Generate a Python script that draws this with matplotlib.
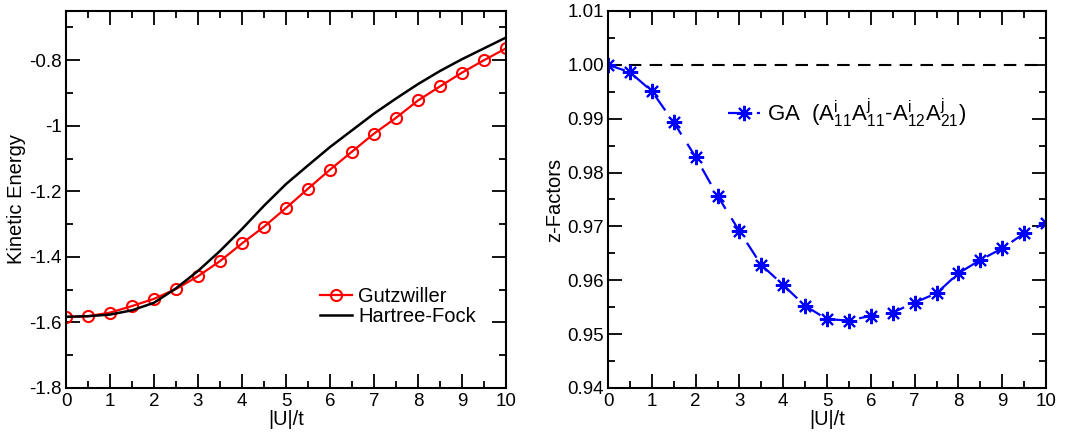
import numpy as np
import matplotlib.pyplot as plt
from matplotlib.ticker import MultipleLocator

plt.rcParams['font.family'] = ['Liberation Sans', 'DejaVu Sans']
plt.rcParams['mathtext.fontset'] = 'custom'
plt.rcParams['mathtext.rm'] = 'Liberation Sans'
plt.rcParams['mathtext.it'] = 'Liberation Sans'

u = np.arange(0, 10.01, 0.5)

# kinetic energy
gutzwiller = [-1.583, -1.581, -1.570, -1.550, -1.528, -1.498, -1.459, -1.413, -1.359, -1.308,
              -1.251, -1.192, -1.134, -1.079, -1.024, -0.976, -0.923, -0.880, -0.838, -0.800, -0.764]
hartree_fock = [-1.583, -1.581, -1.576, -1.563, -1.540, -1.496, -1.443, -1.382, -1.315, -1.244,
                -1.178, -1.121, -1.065, -1.014, -0.963, -0.917, -0.873, -0.833, -0.797, -0.764, -0.731]

# z-factors
z_ga = [1.0000, 0.99864, 0.99512, 0.98932, 0.98290, 0.97568, 0.96914, 0.96284, 0.95914, 0.95525,
        0.95278, 0.95253, 0.95340, 0.95401, 0.95586, 0.95759, 0.96130, 0.96377, 0.96593, 0.96870, 0.97068]
z_ref = 1.0

fig = plt.figure(figsize=(10.83, 4.34), dpi=100)
ax1 = fig.add_axes([66/1083, 1 - 388/434, 440/1083, 377/434])
ax2 = fig.add_axes([608/1083, 1 - 388/434, 438/1083, 377/434])

def style(ax):
    ax.tick_params(which='both', direction='in', top=True, right=True, labelsize=13.5, pad=3)
    ax.tick_params(axis='x', pad=3.5)
    ax.tick_params(which='major', length=10, width=1.3)
    ax.tick_params(which='minor', length=5, width=1.3)
    for s in ax.spines.values():
        s.set_linewidth(1.5)
    ax.set_xlim(0, 10)
    ax.xaxis.set_major_locator(MultipleLocator(1))
    ax.xaxis.set_minor_locator(MultipleLocator(0.5))
    ax.set_xlabel('|U|/t', fontsize=14.5, labelpad=0)

ax1.plot(u, gutzwiller, color='red', lw=1.6, marker='o', ms=8, mfc='none', mew=1.5,
         label='Gutzwiller')
ax1.plot(u, hartree_fock, color='black', lw=1.8, label='Hartree-Fock')
style(ax1)
ax1.set_ylim(-1.8, -0.65)
ax1.yaxis.set_minor_locator(MultipleLocator(0.1))
ax1.set_yticks([-1.8, -1.6, -1.4, -1.2, -1.0, -0.8])
ax1.set_yticklabels(['-1.8', '-1.6', '-1.4', '-1.2', '-1', '-0.8'])
ax1.set_ylabel('Kinetic Energy', fontsize=14.5, labelpad=2)
ax1.legend(loc='center left', bbox_to_anchor=(0.577, 0.217), frameon=False, fontsize=14.5,
           handlelength=1.6, handletextpad=0.3, labelspacing=0.05, borderpad=0,
           borderaxespad=0)

ax2.axhline(z_ref, color='black', lw=1.5, ls=(0, (6, 4)))
ax2.plot(u, z_ga, color='blue', lw=1.6, ls=(0, (8, 5)), marker=(8, 2, 0), ms=11, mew=1.5,
         label=r'GA  ($\mathregular{A^i_{11}A^j_{11}}$-$\mathregular{A^i_{12}A^j_{21}}$)')
style(ax2)
ax2.set_ylim(0.94, 1.01)
ax2.yaxis.set_minor_locator(MultipleLocator(0.005))
ax2.set_yticks([0.94, 0.95, 0.96, 0.97, 0.98, 0.99, 1.00, 1.01])
ax2.set_yticklabels(['0.94', '0.95', '0.96', '0.97', '0.98', '0.99', '1.00', '1.01'])
ax2.set_ylabel('z-Factors', fontsize=14.5, labelpad=2)
ax2.legend(loc='center left', bbox_to_anchor=(0.274, 0.729), frameon=False, fontsize=16,
           handlelength=1.45, handletextpad=0.3, borderpad=0, borderaxespad=0)

fig.savefig('out.png', dpi=100)
